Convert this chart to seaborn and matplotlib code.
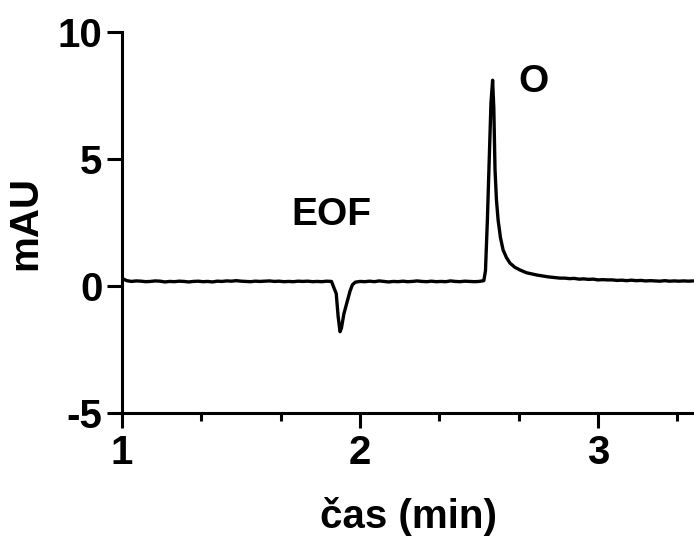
import matplotlib
matplotlib.use("Agg")
import matplotlib.pyplot as plt
from matplotlib.ticker import MultipleLocator
import numpy as np
import pandas as pd
import seaborn as sns

# Electropherogram trace: migration time (min) and absorbance (mAU)
time_min = [
    1.00, 1.02, 1.04, 1.06, 1.08, 1.10, 1.12, 1.14, 1.16, 1.18,
    1.20, 1.22, 1.24, 1.26, 1.28, 1.30, 1.32, 1.34, 1.36, 1.38,
    1.40, 1.42, 1.44, 1.46, 1.48, 1.50, 1.52, 1.54, 1.56, 1.58,
    1.60, 1.62, 1.64, 1.66, 1.68, 1.70, 1.72, 1.74, 1.76, 1.78,
    1.80, 1.82, 1.84, 1.86, 1.88,
    1.900, 1.908, 1.916, 1.922, 1.932, 1.945, 1.958, 1.968, 1.980,
    2.00, 2.02, 2.04, 2.06, 2.08, 2.10, 2.12, 2.14, 2.16, 2.18,
    2.20, 2.22, 2.24, 2.26, 2.28, 2.30, 2.32, 2.34, 2.36, 2.38,
    2.40, 2.42, 2.44, 2.46, 2.48, 2.50, 2.52,
    2.527, 2.535, 2.543, 2.550, 2.557, 2.562, 2.567, 2.573, 2.580,
    2.590, 2.601, 2.615, 2.630, 2.650, 2.672, 2.700, 2.744, 2.790, 2.840,
    2.86, 2.88, 2.90, 2.92, 2.94, 2.96, 2.98, 3.00, 3.02, 3.04,
    3.06, 3.08, 3.10, 3.12, 3.14, 3.16, 3.18, 3.20, 3.22, 3.24,
    3.26, 3.28, 3.30, 3.32, 3.34, 3.36, 3.38, 3.40,
]
absorbance_mau = [
    0.30, 0.21, 0.18, 0.20, 0.19, 0.17, 0.18, 0.20, 0.19, 0.16,
    0.18, 0.17, 0.19, 0.18, 0.16, 0.18, 0.19, 0.17, 0.18, 0.16,
    0.19, 0.18, 0.20, 0.19, 0.21, 0.19, 0.18, 0.17, 0.19, 0.18,
    0.19, 0.20, 0.18, 0.19, 0.17, 0.18, 0.17, 0.19, 0.18, 0.19,
    0.17, 0.18, 0.17, 0.19, 0.18,
    -0.30, -1.20, -1.80, -1.65, -1.10, -0.65, -0.20, 0.05, 0.15,
    0.18, 0.17, 0.19, 0.17, 0.20, 0.18, 0.16, 0.18, 0.17, 0.19,
    0.17, 0.18, 0.20, 0.18, 0.17, 0.19, 0.17, 0.18, 0.17, 0.20,
    0.18, 0.17, 0.19, 0.18, 0.17, 0.18, 0.21,
    0.60, 2.60, 5.00, 7.20, 8.10, 7.00, 4.60, 3.40, 2.60,
    1.90, 1.42, 1.12, 0.90, 0.74, 0.63, 0.52, 0.43, 0.36, 0.31,
    0.31, 0.29, 0.30, 0.27, 0.28, 0.26, 0.27, 0.24, 0.25, 0.24,
    0.24, 0.22, 0.23, 0.21, 0.23, 0.21, 0.22, 0.20, 0.21, 0.20,
    0.19, 0.21, 0.19, 0.20, 0.19, 0.20, 0.19, 0.20,
]

x_ticks = [1, 2, 3]
y_ticks = [-5, 0, 5, 10]
peak_labels = ["EOF", "O"]
peak_label_x = [1.878, 2.727]
peak_label_y = [2.8, 8.05]

sns.set_theme(style="ticks")
plt.rcParams["font.family"] = ["Liberation Sans", "DejaVu Sans"]
plt.rcParams["font.weight"] = "bold"
plt.rcParams["axes.unicode_minus"] = False

df = pd.DataFrame({"time": time_min, "signal": absorbance_mau})

fig = plt.figure(figsize=(6.94, 5.41), dpi=100)
ax = fig.add_axes([122 / 694, 1 - 413 / 541, (694 - 122) / 694, (413 - 32) / 541])

sns.lineplot(data=df, x="time", y="signal", ax=ax, color="black",
             linewidth=2.4, estimator=None)

ax.set_xlim(1, 3.403)
ax.set_ylim(-5, 10)
ax.set_xticks(x_ticks)
ax.set_yticks(y_ticks)
ax.xaxis.set_minor_locator(MultipleLocator(1 / 3))

for side in ("top", "right"):
    ax.spines[side].set_visible(False)
for side in ("left", "bottom"):
    ax.spines[side].set_linewidth(2.2)
    ax.spines[side].set_color("black")

ax.tick_params(axis="both", which="major", direction="out", length=11,
               width=2.2, color="black", labelsize=29, labelcolor="black")
ax.tick_params(axis="x", which="minor", direction="out", length=6,
               width=2.2, color="black")
ax.tick_params(axis="x", which="major", pad=4)
ax.tick_params(axis="y", which="major", pad=3)
for lab in ax.get_xticklabels() + ax.get_yticklabels():
    lab.set_fontweight("bold")

ax.set_xlabel("čas (min)", fontsize=29, fontweight="bold", color="black", labelpad=18)
ax.set_ylabel("mAU", fontsize=29, fontweight="bold", color="black", labelpad=10)

for text, tx, ty in zip(peak_labels, peak_label_x, peak_label_y):
    ax.text(tx, ty, text, fontsize=28, fontweight="bold", color="black",
            ha="center", va="center")

fig.savefig("out.png", dpi=100, facecolor="white")
